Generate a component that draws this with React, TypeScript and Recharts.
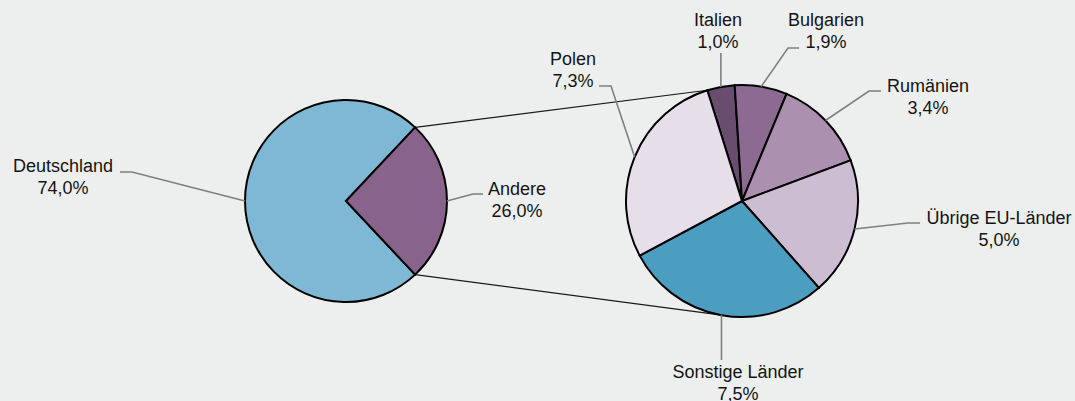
import { Cell, Customized, Pie, PieChart } from "recharts";

const mainNames = ["Deutschland", "Andere"];
const mainValues = [74.0, 26.0];

const detailNames = ["Italien", "Bulgarien", "Rumänien", "Übrige EU-Länder", "Sonstige Länder", "Polen"];
const detailValues = [1.0, 1.9, 3.4, 5.0, 7.5, 7.3];

const mainColors = ["#7fb8d4", "#88648c"];
const detailColors = ["#684d6e", "#8c6a92", "#ab90b0", "#cdbdd3", "#4b9ebf", "#e6dfe9"];

const WIDTH = 1075;
const HEIGHT = 401;
const LEFT = { cx: 346, cy: 201, r: 101 };
const RIGHT = { cx: 742, cy: 201, r: 116 };
const RIGHT_START = 107.4; // where "Italien" begins on the small pie
const BOTTOM_LINK = -101; // where the lower connector meets the small pie
const FONT = '"Liberation Sans", Arial, sans-serif';

// label placement, relative to the pie centre: text (centre, first baseline), leader end, knee length
const labelSpots: Record<string, { tx: number; ty: number; ex: number; ey: number; knee: number }> = {
  Deutschland: { tx: -283, ty: -29, ex: -226, ey: -29, knee: 12 },
  Andere: { tx: 171, ty: -6, ex: 137, ey: -7, knee: 10 },
  Italien: { tx: -24, ty: -175, ex: 0, ey: -148, knee: 0 },
  Bulgarien: { tx: 84, ty: -175, ex: 57, ey: -153, knee: 11 },
  "Rumänien": { tx: 186, ty: -109, ex: 139, ey: -110, knee: 12 },
  "Übrige EU-Länder": { tx: 257, ty: 23, ex: 178, ey: 22, knee: 12 },
  "Sonstige Länder": { tx: -4, ty: 177, ex: 0, ey: 159, knee: 0 },
  Polen: { tx: -169, ty: -136, ex: -143, ey: -115, knee: 12 }
};

const RAD = Math.PI / 180;
const polar = (cx: number, cy: number, r: number, angle: number) => ({
  x: cx + r * Math.cos(-angle * RAD),
  y: cy + r * Math.sin(-angle * RAD)
});

const mainData = mainNames.map((name, i) => ({ name, value: mainValues[i] }));
const detailData = detailNames.map((name, i) => ({ name, value: detailValues[i] }));

const otherHalf = (mainValues[1] / mainValues.reduce((s, v) => s + v, 0)) * 180;

function renderLabel(props: any) {
  const { cx, cy, midAngle, outerRadius } = props;
  const name: string = props.payload?.name ?? props.name;
  const value: number = props.payload?.value ?? props.value;
  const spot = labelSpots[name];
  if (!spot) return null;
  const edge = polar(cx, cy, outerRadius, midAngle);
  const endX = spot.knee === 0 ? edge.x : cx + spot.ex;
  const endY = cy + spot.ey;
  const elbowX = endX + Math.sign(edge.x - endX) * spot.knee;
  const tx = cx + spot.tx;
  const ty = cy + spot.ty;
  return (
    <g>
      <polyline
        points={`${edge.x},${edge.y} ${elbowX},${endY} ${endX},${endY}`}
        fill="none"
        stroke="#7f7f7f"
        strokeWidth={1.6}
      />
      <text x={tx} y={ty} textAnchor="middle" fill="#141414" fontSize={18} fontFamily={FONT}>
        <tspan x={tx} dy={0}>{name}</tspan>
        <tspan x={tx} dy={21.6}>{value.toFixed(1).replace(".", ",") + "%"}</tspan>
      </text>
    </g>
  );
}

function Links() {
  const a = polar(LEFT.cx, LEFT.cy, LEFT.r, otherHalf);
  const b = polar(RIGHT.cx, RIGHT.cy, RIGHT.r, RIGHT_START);
  const c = polar(LEFT.cx, LEFT.cy, LEFT.r, -otherHalf);
  const d = polar(RIGHT.cx, RIGHT.cy, RIGHT.r, BOTTOM_LINK);
  return (
    <g>
      <line x1={a.x} y1={a.y} x2={b.x} y2={b.y} stroke="#1a1a1a" strokeWidth={1.1} />
      <line x1={c.x} y1={c.y} x2={d.x} y2={d.y} stroke="#1a1a1a" strokeWidth={1.1} />
    </g>
  );
}

export default function App() {
  return (
    <div style={{ width: WIDTH, height: HEIGHT, background: "#edefee" }}>
      <style>{"body{margin:0;background:#edefee}"}</style>
      <PieChart width={WIDTH} height={HEIGHT} margin={{ top: 0, right: 0, bottom: 0, left: 0 }}>
        <Customized component={<Links />} />
        <Pie
          data={mainData}
          dataKey="value"
          nameKey="name"
          cx={LEFT.cx}
          cy={LEFT.cy}
          outerRadius={LEFT.r}
          startAngle={otherHalf}
          endAngle={otherHalf + 360}
          stroke="#000"
          strokeWidth={2}
          label={renderLabel}
          labelLine={false}
          isAnimationActive={false}
        >
          {mainData.map((d, i) => (
            <Cell key={d.name} fill={mainColors[i]} />
          ))}
        </Pie>
        <Pie
          data={detailData}
          dataKey="value"
          nameKey="name"
          cx={RIGHT.cx}
          cy={RIGHT.cy}
          outerRadius={RIGHT.r}
          startAngle={RIGHT_START}
          endAngle={RIGHT_START - 360}
          stroke="#000"
          strokeWidth={2}
          label={renderLabel}
          labelLine={false}
          isAnimationActive={false}
        >
          {detailData.map((d, i) => (
            <Cell key={d.name} fill={detailColors[i]} />
          ))}
        </Pie>
      </PieChart>
    </div>
  );
}
